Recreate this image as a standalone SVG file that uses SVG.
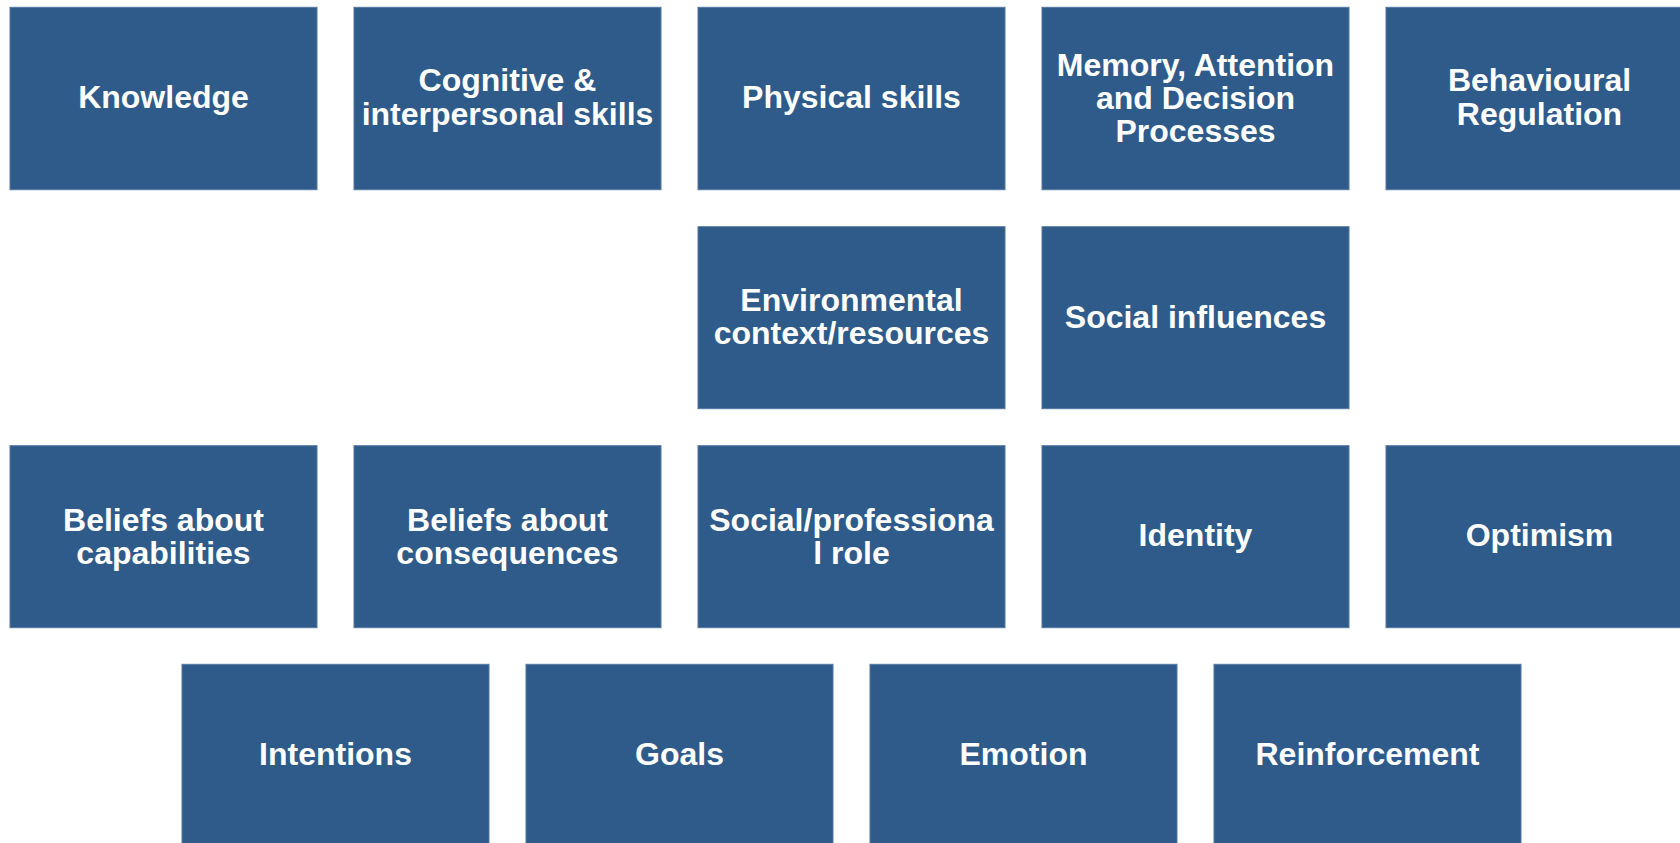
<svg xmlns="http://www.w3.org/2000/svg" width="1680" height="843" viewBox="0 0 1680 843">
  <style>
    .box { fill: #2E5B8A; stroke: #5479A2; stroke-width: 1; }
    .lbl { fill: #FFFFFF; font-family: "Liberation Sans", Arial, sans-serif; font-weight: bold; font-size: 32px; text-anchor: middle; }
  </style>
  <rect width="1680" height="843" fill="#FFFFFF"/>

  <!-- Row 1 -->
  <g id="knowledge">
    <rect class="box" x="10" y="7.3" width="307" height="182.4"/>
    <text class="lbl" x="163.5" y="108.3">Knowledge</text>
  </g>
  <g id="cognitive-interpersonal-skills">
    <rect class="box" x="354" y="7.3" width="307" height="182.4"/>
    <text class="lbl" x="507.5" y="91.3">Cognitive &amp;</text>
    <text class="lbl" x="507.5" y="124.5">interpersonal skills</text>
  </g>
  <g id="physical-skills">
    <rect class="box" x="698" y="7.3" width="307" height="182.4"/>
    <text class="lbl" x="851.5" y="108.3">Physical skills</text>
  </g>
  <g id="memory-attention-decision">
    <rect class="box" x="1042" y="7.3" width="307" height="182.4"/>
    <text class="lbl" x="1195.5" y="76">Memory, Attention</text>
    <text class="lbl" x="1195.5" y="109">and Decision</text>
    <text class="lbl" x="1195.5" y="142">Processes</text>
  </g>
  <g id="behavioural-regulation">
    <rect class="box" x="1386" y="7.3" width="307" height="182.4"/>
    <text class="lbl" x="1539.5" y="91.3">Behavioural</text>
    <text class="lbl" x="1539.5" y="124.5">Regulation</text>
  </g>

  <!-- Row 2 -->
  <g id="environmental-context">
    <rect class="box" x="698" y="226.7" width="307" height="182"/>
    <text class="lbl" x="851.5" y="310.8">Environmental</text>
    <text class="lbl" x="851.5" y="343.8">context/resources</text>
  </g>
  <g id="social-influences">
    <rect class="box" x="1042" y="226.7" width="307" height="182"/>
    <text class="lbl" x="1195.5" y="327.5">Social influences</text>
  </g>

  <!-- Row 3 -->
  <g id="beliefs-capabilities">
    <rect class="box" x="10" y="445.7" width="307" height="182"/>
    <text class="lbl" x="163.5" y="530.6">Beliefs about</text>
    <text class="lbl" x="163.5" y="563.8">capabilities</text>
  </g>
  <g id="beliefs-consequences">
    <rect class="box" x="354" y="445.7" width="307" height="182"/>
    <text class="lbl" x="507.5" y="530.6">Beliefs about</text>
    <text class="lbl" x="507.5" y="563.8">consequences</text>
  </g>
  <g id="social-professional-role">
    <rect class="box" x="698" y="445.7" width="307" height="182"/>
    <text class="lbl" x="851.5" y="530.6">Social/professiona</text>
    <text class="lbl" x="851.5" y="563.8">l role</text>
  </g>
  <g id="identity">
    <rect class="box" x="1042" y="445.7" width="307" height="182"/>
    <text class="lbl" x="1195.5" y="545.7">Identity</text>
  </g>
  <g id="optimism">
    <rect class="box" x="1386" y="445.7" width="307" height="182"/>
    <text class="lbl" x="1539.5" y="545.7">Optimism</text>
  </g>

  <!-- Row 4 -->
  <g id="intentions">
    <rect class="box" x="182" y="664.3" width="307" height="190"/>
    <text class="lbl" x="335.5" y="765">Intentions</text>
  </g>
  <g id="goals">
    <rect class="box" x="526" y="664.3" width="307" height="190"/>
    <text class="lbl" x="679.5" y="765">Goals</text>
  </g>
  <g id="emotion">
    <rect class="box" x="870" y="664.3" width="307" height="190"/>
    <text class="lbl" x="1023.5" y="765">Emotion</text>
  </g>
  <g id="reinforcement">
    <rect class="box" x="1214" y="664.3" width="307" height="190"/>
    <text class="lbl" x="1367.5" y="765">Reinforcement</text>
  </g>

  <!-- no connectors in this layout -->
  <g id="connectors"/>
</svg>
